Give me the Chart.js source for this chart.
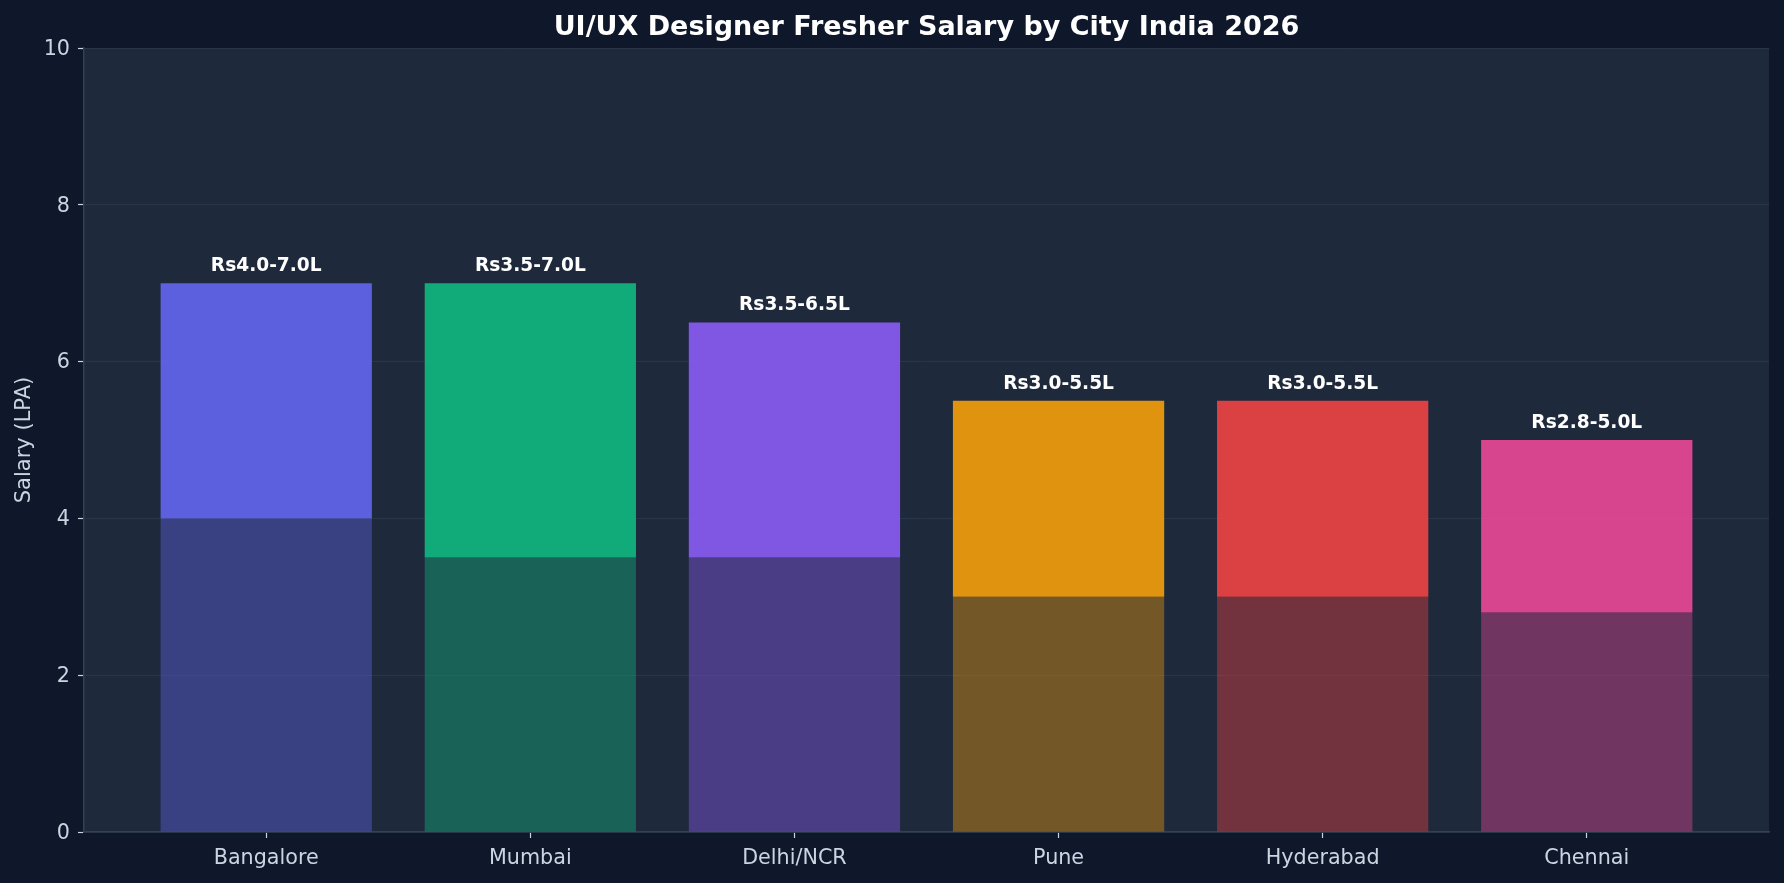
<!DOCTYPE html>
<html>
<head>
<meta charset="utf-8">
<title>UI/UX Designer Fresher Salary by City India 2026</title>
<script src="https://cdn.jsdelivr.net/npm/chart.js@4.4.1/dist/chart.umd.min.js"></script>
<style>
  html, body { margin: 0; padding: 0; background: #0f172a; }
  #wrap { width: 1784px; height: 883px; position: relative; }
</style>
</head>
<body>
<div id="wrap"><canvas id="chart"></canvas></div>
<script>
// Fresher salary range per city (LPA)
const cities = ['Bangalore', 'Mumbai', 'Delhi/NCR', 'Pune', 'Hyderabad', 'Chennai'];
const salaryMin = [4.0, 3.5, 3.5, 3.0, 3.0, 2.8];
const salaryMax = [7.0, 7.0, 6.5, 5.5, 5.5, 5.0];
const cityColors = ['#6366f1', '#10b981', '#8b5cf6', '#f59e0b', '#ef4444', '#ec4899'];
const yTicks = [0, 2, 4, 6, 8, 10];

const TITLE = 'UI/UX Designer Fresher Salary by City India 2026';
const FONT = '"DejaVu Sans", "Liberation Sans", sans-serif';
const TICK_COLOR = '#cbd5e1';

// ====== UTIL ======

function rgba(hex, a) {
  const n = parseInt(hex.slice(1), 16);
  return `rgba(${(n >> 16) & 255}, ${(n >> 8) & 255}, ${n & 255}, ${a})`;
}

const fmtRange = (lo, hi) => `Rs${lo.toFixed(1)}-${hi.toFixed(1)}L`;

// ====== PLUGINS ======

const plotBackground = {
  id: 'plotBackground',
  beforeDraw(chart) {
    const { ctx, chartArea: a } = chart;
    ctx.save();
    ctx.fillStyle = '#1e293b';
    ctx.fillRect(a.left, a.top, a.right - a.left, a.bottom - a.top);
    ctx.restore();
  }
};

const chartTitle = {
  id: 'chartTitle',
  afterDraw(chart) {
    const { ctx, chartArea: a } = chart;
    ctx.save();
    ctx.fillStyle = '#ffffff';
    ctx.font = `bold 27px ${FONT}`;
    ctx.textAlign = 'center';
    ctx.textBaseline = 'alphabetic';
    ctx.fillText(TITLE, (a.left + a.right) / 2, 35);
    ctx.restore();
  }
};

const rangeLabels = {
  id: 'rangeLabels',
  afterDatasetsDraw(chart) {
    const { ctx, scales: { x, y } } = chart;
    ctx.save();
    ctx.fillStyle = '#ffffff';
    ctx.font = `bold 18.6px ${FONT}`;
    ctx.textAlign = 'center';
    ctx.textBaseline = 'alphabetic';
    cities.forEach((c, i) => {
      ctx.fillText(fmtRange(salaryMin[i], salaryMax[i]),
        x.getPixelForValue(i), y.getPixelForValue(salaryMax[i]) - 12);
    });
    ctx.restore();
  }
};

// ====== CHART ======

const barCommon = { grouped: false, barPercentage: 0.8, categoryPercentage: 1.0, borderWidth: 0 };

// eslint-disable-next-line no-undef
new Chart(document.getElementById('chart'), {
  type: 'bar',
  data: {
    datasets: [
      {
        ...barCommon,
        label: 'Min',
        data: cities.map((c, i) => ({ x: i, y: [0, salaryMin[i]] })),
        backgroundColor: cityColors.map(c => rgba(c, 0.4)),
      },
      {
        ...barCommon,
        label: 'Max',
        data: cities.map((c, i) => ({ x: i, y: [salaryMin[i], salaryMax[i]] })),
        backgroundColor: cityColors.map(c => rgba(c, 0.9)),
      }
    ]
  },
  options: {
    responsive: true,
    maintainAspectRatio: false,
    animation: false,
    layout: { padding: { top: 48, right: 15, left: 0, bottom: 0 } },
    plugins: { legend: { display: false }, tooltip: { enabled: false }, title: { display: false } },
    scales: {
      x: {
        type: 'linear',
        min: -0.69,
        max: 5.69,
        offset: false,
        afterBuildTicks: (axis) => { axis.ticks = cities.map((c, i) => ({ value: i })); },
        afterFit: (axis) => { axis.height = 51; },
        grid: { offset: false, drawOnChartArea: false, drawTicks: true, tickLength: 6, tickColor: TICK_COLOR, tickWidth: 1.2 },
        border: { display: true, color: '#334155', width: 1.5 },
        ticks: {
          autoSkip: false, maxRotation: 0, padding: 8,
          color: TICK_COLOR, font: { family: FONT, size: 20.7 },
          callback: (v) => cities[v]
        }
      },
      y: {
        min: 0,
        max: 10,
        afterBuildTicks: (axis) => { axis.ticks = yTicks.map(v => ({ value: v })); },
        afterFit: (axis) => { axis.width = 84; },
        grid: { color: 'rgba(51, 65, 85, 0.5)', lineWidth: 1, drawTicks: true, tickLength: 6, tickColor: TICK_COLOR, tickWidth: 1.2 },
        border: { display: true, color: '#334155', width: 1.5 },
        ticks: { padding: 8, labelOffset: 1.5, color: TICK_COLOR, font: { family: FONT, size: 20.7 } },
        title: {
          display: true, text: 'Salary (LPA)', color: TICK_COLOR,
          font: { family: FONT, size: 21, lineHeight: 1.2 }, padding: { top: 12, bottom: 0 }
        }
      }
    }
  },
  plugins: [plotBackground, rangeLabels, chartTitle]
});
</script>
</body>
</html>
